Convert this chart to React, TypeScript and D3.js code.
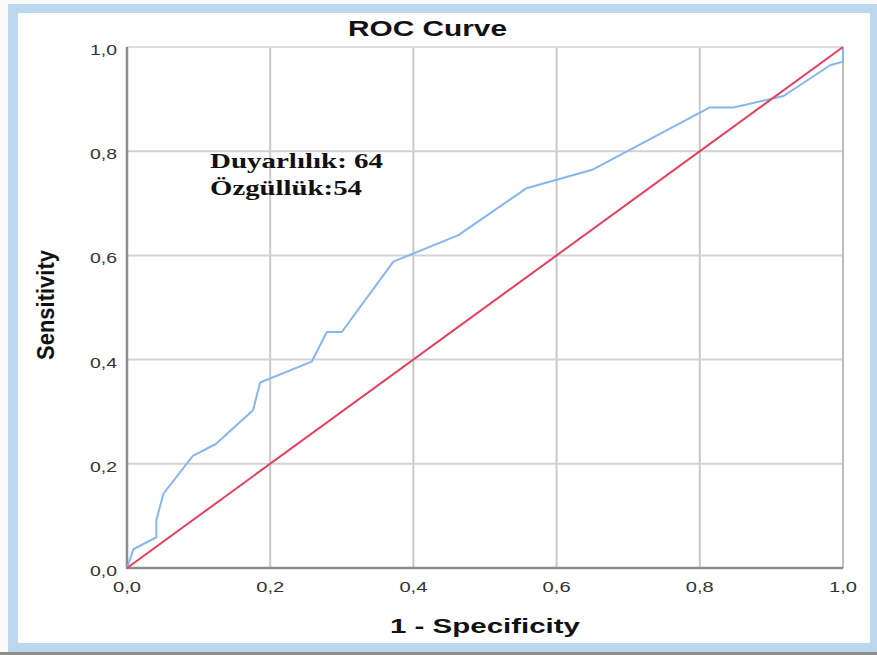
import React from "react";
import * as d3 from "d3";

const fpr = [0, 0.009, 0.041, 0.041, 0.051, 0.092, 0.124, 0.176, 0.186, 0.258, 0.279, 0.3, 0.372, 0.463, 0.558, 0.651, 0.814, 0.847, 0.917, 0.982, 1.0, 1.0];
const tpr = [0, 0.036, 0.059, 0.092, 0.143, 0.215, 0.238, 0.303, 0.356, 0.396, 0.453, 0.453, 0.588, 0.639, 0.729, 0.765, 0.884, 0.884, 0.906, 0.965, 0.972, 1.0];
const refX = [0, 1];
const refY = [0, 1];
const tickValues = [0, 0.2, 0.4, 0.6, 0.8, 1.0];
const tickLabels = ["0,0", "0,2", "0,4", "0,6", "0,8", "1,0"];
const title = "ROC Curve";
const xTitle = "1 - Specificity";
const yTitle = "Sensitivity";
const noteLines = ["Duyarlılık: 64", "Özgüllük:54"];

export default function App() {
  const W = 877, H = 655;
  const x = d3.scaleLinear().domain([0, 1]).range([127, 843]);
  const y = d3.scaleLinear().domain([0, 1]).range([568, 47]);
  const curve = fpr.map((v, i) => [v, tpr[i]] as [number, number]);
  const ref = refX.map((v, i) => [v, refY[i]] as [number, number]);
  const line = d3.line<[number, number]>().x(d => x(d[0])).y(d => y(d[1]));
  const sans = "'Liberation Sans', Arial, sans-serif";
  const serif = "'Liberation Serif', 'Times New Roman', serif";
  return (
    <svg width={W} height={H} style={{ position: "absolute", left: 0, top: 0, background: "#fafafa" }}>
      <rect x={8} y={4} width={W - 8} height={648} fill="#bdd7ee" />
      <rect x={18} y={13} width={852} height={630} fill="#ffffff" />
      <rect x={0} y={652} width={W} height={3} fill="#8e8e8e" />
      {/* grid */}
      {tickValues.filter(t => t > 0 && t < 1).map(t => (
        <line key={"vx" + t} x1={x(t)} x2={x(t)} y1={y(0)} y2={y(1)} stroke="#c9c9c9" strokeWidth={2} />
      ))}
      {tickValues.filter(t => t > 0 && t < 1).map(t => (
        <line key={"hy" + t} x1={x(0)} x2={x(1)} y1={y(t)} y2={y(t)} stroke="#d3d3d3" strokeWidth={2} />
      ))}
      <line x1={x(0)} x2={x(1)} y1={y(1)} y2={y(1)} stroke="#dcdcdc" strokeWidth={2} />
      <line x1={x(1)} x2={x(1)} y1={y(0)} y2={y(1)} stroke="#bdbdbd" strokeWidth={2} />
      <line x1={x(0)} x2={x(0)} y1={y(0) + 1} y2={y(1)} stroke="#8c8c8c" strokeWidth={2.5} />
      <line x1={x(0)} x2={x(1)} y1={y(0)} y2={y(0)} stroke="#8c8c8c" strokeWidth={2.5} />
      {/* lines */}
      <path d={line(curve) || ""} fill="none" stroke="#86b6ee" strokeWidth={2} strokeLinejoin="round" />
      <path d={line(ref) || ""} fill="none" stroke="#e2405c" strokeWidth={2} />
      {/* tick labels */}
      {tickValues.map((t, i) => (
        <text key={"yl" + t} x={117} y={y(t) + 8} textAnchor="end" fontFamily={sans} fontSize={15.5}
          fill="#333" textLength={27} lengthAdjust="spacingAndGlyphs">{tickLabels[i]}</text>
      ))}
      {tickValues.map((t, i) => (
        <text key={"xl" + t} x={x(t)} y={592} textAnchor="middle" fontFamily={sans} fontSize={15.5}
          fill="#333" textLength={28} lengthAdjust="spacingAndGlyphs">{tickLabels[i]}</text>
      ))}
      {/* titles */}
      <text x={427.5} y={36} textAnchor="middle" fontFamily={sans} fontWeight="bold" fontSize={22}
        fill="#111" textLength={159} lengthAdjust="spacingAndGlyphs">{title}</text>
      <text x={485} y={633} textAnchor="middle" fontFamily={sans} fontWeight="bold" fontSize={21}
        fill="#111" textLength={190} lengthAdjust="spacingAndGlyphs">{xTitle}</text>
      <text transform="translate(54,305) rotate(-90)" textAnchor="middle" fontFamily={sans} fontWeight="bold"
        fontSize={24} fill="#111" textLength={110} lengthAdjust="spacingAndGlyphs">{yTitle}</text>
      {/* annotation */}
      <text x={210} y={168} fontFamily={serif} fontWeight="bold" fontSize={22} fill="#111"
        textLength={173} lengthAdjust="spacingAndGlyphs">{noteLines[0]}</text>
      <text x={210} y={195} fontFamily={serif} fontWeight="bold" fontSize={22} fill="#111"
        textLength={152} lengthAdjust="spacingAndGlyphs">{noteLines[1]}</text>
    </svg>
  );
}
